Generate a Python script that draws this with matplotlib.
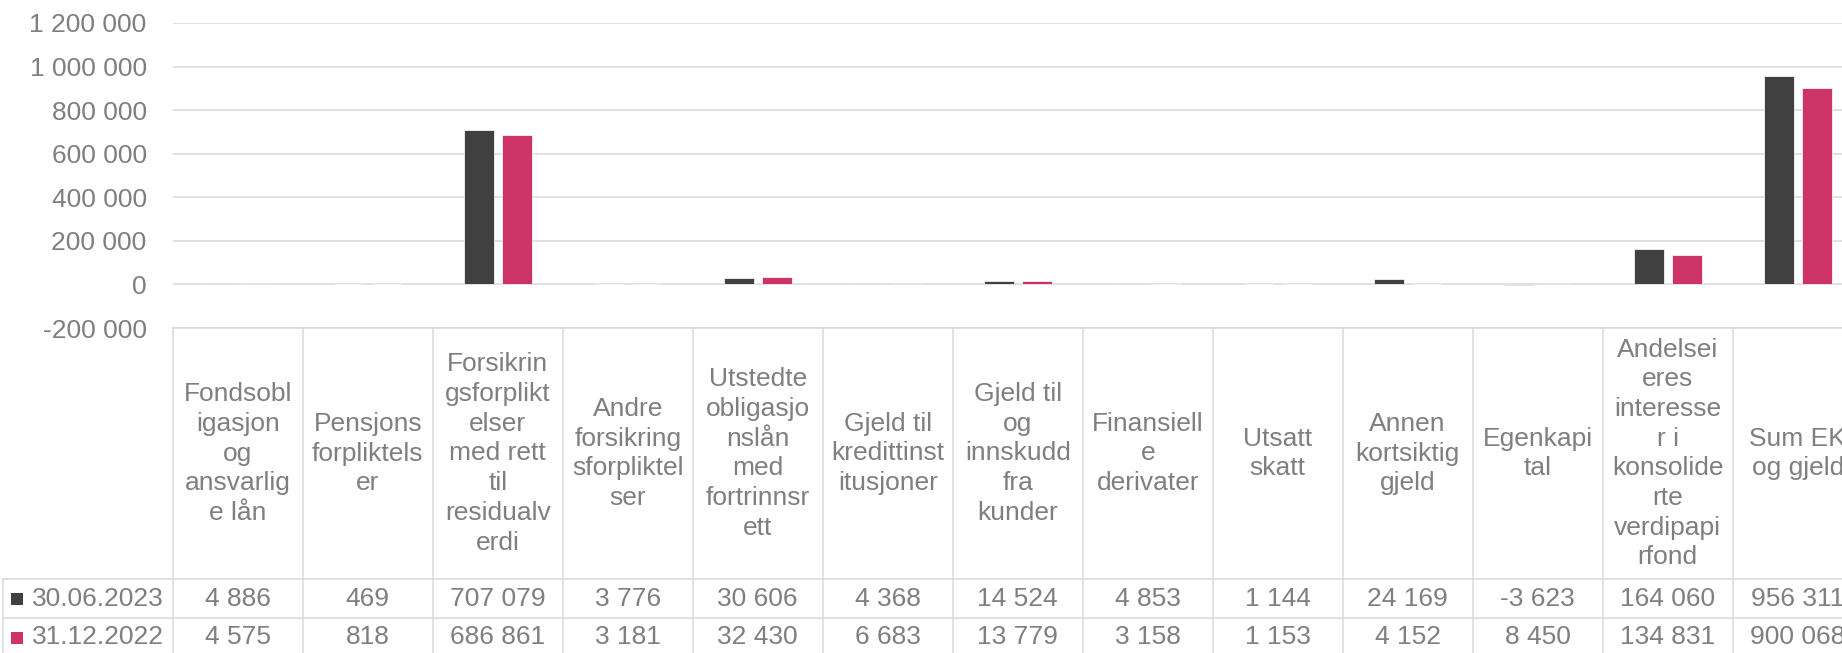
import numpy as np
import matplotlib
matplotlib.use("Agg")
import matplotlib.pyplot as plt
from matplotlib.ticker import FuncFormatter

plt.rcParams['font.family'] = ['Liberation Sans', 'DejaVu Sans']

categories = [
    "Fondsobl\nigasjon\nog\nansvarlig\ne lån",
    "Pensjons\nforpliktels\ner",
    "Forsikrin\ngsforplikt\nelser\nmed rett\ntil\nresidualv\nerdi",
    "Andre\nforsikring\nsforpliktel\nser",
    "Utstedte\nobligasjo\nnslån\nmed\nfortrinnsr\nett",
    "Gjeld til\nkredittinst\nitusjoner",
    "Gjeld til\nog\ninnskudd\nfra\nkunder",
    "Finansiell\ne\nderivater",
    "Utsatt\nskatt",
    "Annen\nkortsiktig\ngjeld",
    "Egenkapi\ntal",
    "Andelsei\neres\ninteresse\nr i\nkonsolide\nrte\nverdipapi\nrfond",
    "Sum EK\nog gjeld",
]
series_names = ["30.06.2023", "31.12.2022"]
vals_2023 = [4886, 469, 707079, 3776, 30606, 4368, 14524, 4853, 1144, 24169, -3623, 164060, 956311]
vals_2022 = [4575, 818, 686861, 3181, 32430, 6683, 13779, 3158, 1153, 4152, 8450, 134831, 900068]
colors = ["#404040", "#cc3366"]

TXT = "#7f7f7f"
GRID = "#d9d9d9"
FS = 19

W, H = 1842, 653
fig = plt.figure(figsize=(W / 100, H / 100), dpi=100)

x0 = 172.7      # left edge of plot / table (px)
colw = 130.0    # category width (px)
ytop, ybot = 23.0, 328.0
ncat = len(categories)

ax = fig.add_axes([x0 / W, (H - ybot) / H, ncat * colw / W, (ybot - ytop) / H])
x = np.arange(ncat)
bw = 0.23
off = 0.145
for k, vals in enumerate([vals_2023, vals_2022]):
    ax.bar(x + (k * 2 - 1) * off, vals, bw, color=colors[k], edgecolor="#f2f2f2",
           linewidth=0.6, zorder=3)

ax.set_xlim(-0.5, ncat - 0.5)
ax.set_ylim(-200000, 1200000)
ax.set_yticks(np.arange(-200000, 1200001, 200000))
fmt = lambda v, p=None: f"{v:,.0f}".replace(",", " ")
ax.yaxis.set_major_formatter(FuncFormatter(fmt))
ax.tick_params(axis="y", length=0, pad=18.7, labelsize=FS, labelcolor=TXT)
ax.set_xticks([])
ax.grid(axis="y", color=GRID, linewidth=1.1)
ax.set_axisbelow(True)
for s in ax.spines.values():
    s.set_visible(False)

# data table below the plot
tb_bottom = 657.0
axt = fig.add_axes([x0 / W, (H - tb_bottom) / H, ncat * colw / W, (tb_bottom - ybot) / H])
axt.set_xlim(-0.5, ncat - 0.5)
axt.set_ylim(tb_bottom, ybot)
axt.axis("off")

row1, row2 = 579.0, 618.0
xl = -0.5 - (x0 - 3) / colw
lk = dict(color=GRID, linewidth=1.1, clip_on=False)
for b in np.arange(-0.5, ncat + 0.5):
    axt.plot([b, b], [ybot, tb_bottom], **lk)
axt.plot([xl, xl], [row1, tb_bottom], **lk)
axt.plot([-0.5, ncat - 0.5], [ybot, ybot], **lk)
for yy in (row1, row2, tb_bottom):
    axt.plot([xl, ncat - 0.5], [yy, yy], **lk)

for i, c in enumerate(categories):
    axt.text(i, (ybot + row1) / 2, c, ha="center", va="center", fontsize=FS,
             color=TXT, linespacing=1.3, clip_on=False)

for r, (name, vals) in enumerate(zip(series_names, [vals_2023, vals_2022])):
    yc = [(row1 + row2) / 2, (row2 + tb_bottom) / 2][r]
    axt.scatter([xl + 14 / colw], [yc], marker="s", s=72, color=colors[r],
                clip_on=False, zorder=3, linewidths=0)
    axt.text(xl + 28.7 / colw, yc, name, ha="left", va="center", fontsize=FS,
             color=TXT, clip_on=False)
    for i, v in enumerate(vals):
        axt.text(i, yc, fmt(v), ha="center", va="center", fontsize=FS,
                 color=TXT, clip_on=False)

fig.savefig("out.png", dpi=100)
